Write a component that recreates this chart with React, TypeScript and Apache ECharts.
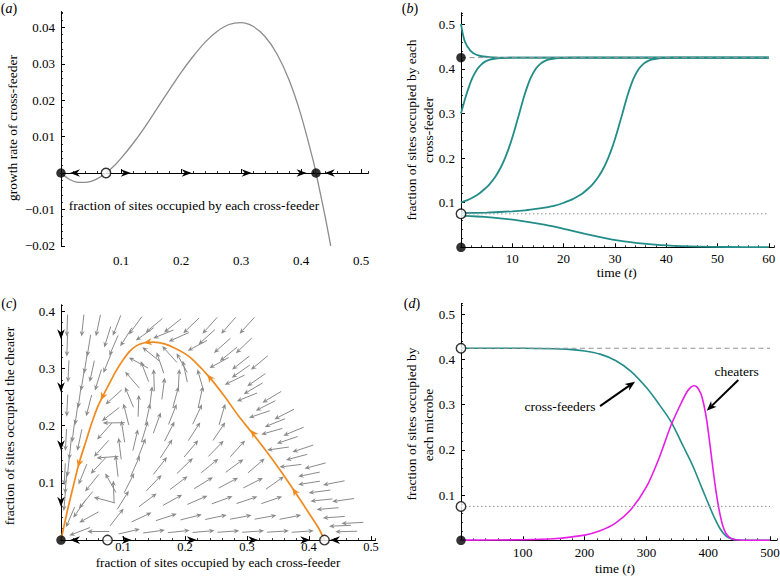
import React, { useEffect, useRef } from 'react';
import * as echarts from 'echarts';

const SERIF = 'Liberation Serif, Times New Roman, serif';
const TEAL = '#228d88';
const MAGENTA = '#e61ee6';
const ORANGE = '#f08a1e';
const STREAM = '#8a8a8a';
const REFGRAY = '#939393';

// ---------- (a) growth rate curve ----------
const growthX = [0, 0.01, 0.02, 0.03, 0.04, 0.05, 0.06, 0.07, 0.075, 0.08, 0.09, 0.1, 0.12, 0.14, 0.16, 0.18, 0.2, 0.22, 0.24, 0.26, 0.28, 0.3, 0.32, 0.34, 0.36, 0.38, 0.4, 0.42, 0.425, 0.44, 0.4495];
const growthY = [0, -0.0013, -0.0022, -0.0026, -0.0026, -0.0023, -0.0016, -0.0006, 0, 0.0007, 0.0022, 0.004, 0.0081, 0.0127, 0.0177, 0.0227, 0.0276, 0.032, 0.0359, 0.0389, 0.0408, 0.0413, 0.0403, 0.0375, 0.0327, 0.0256, 0.0159, 0.0036, 0, -0.0118, -0.02];
const axisArrowsA = [[0.0233, 0, 180], [0.108, 0, 0], [0.2095, 0, 0], [0.3095, 0, 0], [0.401, 0, 0], [0.448, 0, 180]];
const filledA = [[0, 0], [0.425, 0]];
const openA = [[0.075, 0]];

// ---------- (b) time courses ----------
const bFrom050 = [[0, 0.5], [0.2, 0.487], [0.41, 0.475], [0.7, 0.463], [1.0, 0.455], [1.23, 0.45], [1.5, 0.446], [1.86, 0.44], [2.42, 0.435], [3.36, 0.43], [4.31, 0.4275], [5.6, 0.426], [7, 0.4253], [10, 0.4251], [60, 0.425]];
const bFrom030 = [[0, 0.3], [0.48, 0.32], [0.99, 0.34], [1.56, 0.36], [2.24, 0.38], [3.21, 0.4], [3.99, 0.41], [4.7, 0.416], [5.49, 0.42], [6.5, 0.4225], [7.69, 0.424], [10, 0.4248], [60, 0.425]];
const bFrom010 = [[0, 0.1], [1.13, 0.105], [2.04, 0.11], [3.5, 0.12], [4.55, 0.13], [5.46, 0.14], [6.79, 0.16], [7.79, 0.18], [8.58, 0.2], [9.25, 0.22], [9.84, 0.24], [10.37, 0.26], [10.87, 0.28], [11.36, 0.3], [11.84, 0.32], [12.35, 0.34], [12.92, 0.36], [13.6, 0.38], [14.57, 0.4], [15.35, 0.41], [16.1, 0.416], [16.85, 0.42], [17.9, 0.4225], [19.05, 0.424], [21.5, 0.4248], [60, 0.425]];
const bFrom0765 = [[0, 0.0765], [5, 0.0779], [10, 0.0806], [12.5, 0.0828], [15, 0.0865], [17, 0.0902], [18.5, 0.0937], [20.1, 0.1], [21.2, 0.105], [22.1, 0.11], [23.6, 0.12], [24.65, 0.13], [25.56, 0.14], [26.89, 0.16], [27.89, 0.18], [28.68, 0.2], [29.35, 0.22], [29.94, 0.24], [30.47, 0.26], [30.97, 0.28], [31.46, 0.3], [31.94, 0.32], [32.45, 0.34], [33.02, 0.36], [33.7, 0.38], [34.67, 0.4], [35.45, 0.41], [36.2, 0.416], [36.95, 0.42], [38, 0.4225], [39.15, 0.424], [41.6, 0.4248], [60, 0.425]];
const bFrom071 = [[0, 0.071], [1.8, 0.07], [4.6, 0.068], [7.65, 0.065], [11.4, 0.06], [16.5, 0.05], [20.5, 0.04], [24.2, 0.03], [28.3, 0.02], [30.8, 0.015], [34, 0.01], [39, 0.005], [44.7, 0.002], [49.1, 0.001], [55, 0.0004], [60, 0.0002]];
const bStable = 0.425;
const bUnstable = 0.075;
const bTEnd = 60;
const filledB = [[0, 0.425], [0, 0]];
const openB = [[0, 0.075]];

// ---------- (c) phase plane ----------
// [x, y, direction angle in degrees]
const streamArrows = [
  [0.03, 0.015, 201], [0.06, 0.015, 180], [0.11, 0.015, 13], [0.15, 0.015, 8], [0.19, 0.015, 6], [0.23, 0.015, 5], [0.27, 0.015, 4], [0.31, 0.015, 4], [0.35, 0.015, 3.5], [0.39, 0.015, 4], [0.46, 0.015, 181.5],
  [0.45, 0.025, 182.5], [0.47, 0.03, 183],
  [0.015, 0.04, 247], [0.045, 0.04, 209], [0.09, 0.04, 52], [0.13, 0.04, 25], [0.17, 0.04, 18], [0.21, 0.04, 14], [0.25, 0.04, 12], [0.29, 0.04, 10.5], [0.33, 0.04, 10], [0.37, 0.04, 11], [0.44, 0.04, 184],
  [0.03, 0.055, 235], [0.43, 0.055, 185],
  [0.006, 0.07, 265], [0.04, 0.07, 231], [0.07, 0.07, 165], [0.1, 0.07, 58], [0.14, 0.07, 37], [0.18, 0.07, 29], [0.22, 0.07, 23.5], [0.26, 0.07, 20], [0.3, 0.07, 18.5], [0.34, 0.07, 19], [0.42, 0.07, 186], [0.455, 0.07, 188],
  [0.085, 0.085, 92], [0.417, 0.085, 187.5],
  [0.008, 0.1, 265], [0.05, 0.1, 231], [0.08, 0.1, 119], [0.11, 0.1, 63], [0.15, 0.1, 46], [0.19, 0.1, 37], [0.23, 0.1, 31.5], [0.27, 0.1, 28], [0.31, 0.1, 27], [0.345, 0.1, 35], [0.4, 0.1, 189], [0.44, 0.1, 191],
  [0.006, 0.115, 267], [0.035, 0.115, 248], [0.4, 0.115, 191.6],
  [0.012, 0.13, 264], [0.06, 0.13, 227], [0.09, 0.13, 96.5], [0.12, 0.13, 66], [0.16, 0.13, 52], [0.2, 0.13, 44], [0.24, 0.13, 39], [0.28, 0.13, 36.6], [0.315, 0.13, 40.5], [0.37, 0.13, 187], [0.41, 0.13, 195],
  [0.075, 0.145, 184], [0.38, 0.145, 194.8],
  [0.015, 0.16, 264], [0.065, 0.16, 228], [0.095, 0.16, 97], [0.13, 0.16, 69], [0.17, 0.16, 57], [0.21, 0.16, 50], [0.25, 0.16, 46], [0.285, 0.16, 48], [0.35, 0.16, 188], [0.39, 0.16, 198.5],
  [0.008, 0.175, 267], [0.03, 0.175, 258], [0.12, 0.175, 76.6], [0.365, 0.175, 198.6],
  [0.02, 0.19, 263], [0.07, 0.19, 228], [0.1, 0.19, 99], [0.135, 0.19, 73], [0.175, 0.19, 63], [0.215, 0.19, 57], [0.255, 0.19, 56], [0.34, 0.19, 196], [0.375, 0.19, 202.6],
  [0.085, 0.205, 181], [0.155, 0.205, 70], [0.345, 0.205, 202],
  [0.025, 0.22, 262], [0.08, 0.22, 218], [0.105, 0.22, 104], [0.14, 0.22, 77.7], [0.18, 0.22, 68.4], [0.22, 0.22, 65], [0.26, 0.22, 73.7], [0.32, 0.22, 198.6], [0.36, 0.22, 207],
  [0.01, 0.235, 267.3], [0.045, 0.235, 255.7], [0.125, 0.235, 88], [0.33, 0.235, 206.8],
  [0.03, 0.25, 262], [0.085, 0.25, 222], [0.11, 0.25, 113], [0.145, 0.25, 83], [0.185, 0.25, 75], [0.225, 0.25, 77.7], [0.3, 0.25, 202], [0.34, 0.25, 211],
  [0.165, 0.265, 82.5], [0.31, 0.265, 210.6],
  [0.035, 0.28, 261], [0.06, 0.28, 253], [0.115, 0.28, 131], [0.15, 0.28, 92], [0.19, 0.28, 87], [0.225, 0.28, 106], [0.28, 0.28, 206], [0.315, 0.28, 214.7],
  [0.012, 0.295, 267.4], [0.05, 0.295, 257.6], [0.135, 0.295, 111], [0.2, 0.295, 102], [0.29, 0.295, 214.8],
  [0.04, 0.31, 261], [0.075, 0.31, 248], [0.125, 0.31, 151], [0.16, 0.31, 109], [0.195, 0.31, 119], [0.255, 0.31, 209], [0.29, 0.31, 218], [0.32, 0.31, 220],
  [0.145, 0.325, 141], [0.175, 0.325, 132], [0.27, 0.325, 219],
  [0.01, 0.34, 268], [0.045, 0.34, 260.6], [0.085, 0.34, 246.7], [0.22, 0.34, 208], [0.26, 0.34, 221.6], [0.295, 0.34, 224],
  [0.075, 0.355, 252.7], [0.105, 0.355, 237.5], [0.19, 0.355, 204], [0.235, 0.355, 222],
  [0.135, 0.36, 215.5], [0.165, 0.36, 202],
  [0.01, 0.375, 268], [0.035, 0.375, 263.7], [0.06, 0.375, 258], [0.09, 0.375, 248.7], [0.12, 0.375, 234], [0.15, 0.375, 220], [0.18, 0.375, 218.6], [0.21, 0.375, 224], [0.24, 0.375, 228], [0.27, 0.375, 228.7], [0.3, 0.375, 228],
];
const separatrix = [[0.425, 0], [0.415, 0.022], [0.4, 0.047], [0.377, 0.085], [0.355, 0.12], [0.33, 0.157], [0.307, 0.189], [0.285, 0.219], [0.264, 0.251], [0.24, 0.284], [0.215, 0.313], [0.2, 0.326], [0.183, 0.336], [0.167, 0.343], [0.15, 0.346], [0.135, 0.345], [0.122, 0.34], [0.11, 0.329], [0.097, 0.31], [0.088, 0.294], [0.08, 0.278], [0.07, 0.257], [0.06, 0.235], [0.05, 0.206], [0.04, 0.172], [0.029, 0.134], [0.02, 0.095], [0.01, 0.05], [0, 0]];
const separatrixArrows = [[0.377, 0.085, 124], [0.31, 0.187, 128], [0.24, 0.284, 130], [0.14, 0.346, 188], [0.067, 0.251, 245], [0.029, 0.134, 254]];
const axisArrowsC = [[0.0226, 0, 180], [0.106, 0, 0], [0.211, 0, 0], [0.31, 0, 0], [0.394, 0, 0], [0.442, 0, 180], [0, 0.36, 270], [0, 0.267, 270], [0, 0.166, 270], [0, 0.067, 270]];
const filledC = [[0, 0]];
const openC = [[0.075, 0], [0.425, 0]];

// ---------- (d) invasion of cheaters ----------
const dCrossT = [0, 100, 150, 175, 200, 225, 250, 275, 300, 320, 340, 360, 375, 390, 400, 410, 420, 430, 440, 450, 460, 500];
const dCross = [0.425, 0.4249, 0.4238, 0.4225, 0.419, 0.412, 0.398, 0.374, 0.338, 0.302, 0.262, 0.207, 0.165, 0.115, 0.082, 0.05, 0.024, 0.008, 0.002, 0.0005, 0, 0];
const dCheatT = [0, 100, 150, 200, 225, 250, 275, 300, 320, 340, 355, 365, 372, 377, 382, 388, 393, 398, 403, 408, 413, 418, 423, 428, 433, 440, 450, 460, 500];
const dCheat = [0.0003, 0.0012, 0.0035, 0.0115, 0.021, 0.038, 0.068, 0.118, 0.18, 0.255, 0.3, 0.327, 0.339, 0.342, 0.339, 0.325, 0.3, 0.262, 0.21, 0.155, 0.105, 0.065, 0.035, 0.017, 0.008, 0.0025, 0.0005, 0, 0];
const dTEnd = 500;
const annotationArrowsD = [[225, 0.297, 281.6, 0.351], [448.7, 0.3547, 397.6, 0.2867]];
const filledD = [[0, 0]];
const openD = [[0, 0.425], [0, 0.075]];

// ---------- helpers ----------
function head(tip: number[], ux: number, uy: number, len: number, hw: number) {
  const px = -uy, py = ux;
  return [
    [tip[0], tip[1]],
    [tip[0] - len * ux + hw * px, tip[1] - len * uy + hw * py],
    [tip[0] - 0.7 * len * ux, tip[1] - 0.7 * len * uy],
    [tip[0] - len * ux - hw * px, tip[1] - len * uy - hw * py],
  ];
}

function streamSeries(grid: number, data: number[][]) {
  return {
    type: 'custom', coordinateSystem: 'cartesian2d', xAxisIndex: grid, yAxisIndex: grid,
    data, encode: { x: 0, y: 1 }, silent: true, z: 2,
    renderItem: (_p: any, api: any) => {
      const c = api.coord([api.value(0), api.value(1)]);
      const th = (api.value(2) * Math.PI) / 180;
      const ux = Math.cos(th), uy = -Math.sin(th);
      const L = 22;
      const tail = [c[0] - (ux * L) / 2, c[1] - (uy * L) / 2];
      const tip = [c[0] + (ux * L) / 2, c[1] + (uy * L) / 2];
      return {
        type: 'group',
        children: [
          { type: 'line', shape: { x1: tail[0], y1: tail[1], x2: tip[0] - ux * 4, y2: tip[1] - uy * 4 }, style: { stroke: STREAM, lineWidth: 1 } },
          { type: 'polygon', shape: { points: head(tip, ux, uy, 5.5, 2.4) }, style: { fill: STREAM } },
        ],
      };
    },
  };
}

function headSeries(grid: number, data: number[][], len: number, hw: number, color: string, z: number) {
  return {
    type: 'custom', coordinateSystem: 'cartesian2d', xAxisIndex: grid, yAxisIndex: grid,
    data, encode: { x: 0, y: 1 }, silent: true, z,
    renderItem: (_p: any, api: any) => {
      const c = api.coord([api.value(0), api.value(1)]);
      const th = (api.value(2) * Math.PI) / 180;
      const ux = Math.cos(th), uy = -Math.sin(th);
      const tip = [c[0] + (ux * len) / 2, c[1] + (uy * len) / 2];
      return { type: 'polygon', shape: { points: head(tip, ux, uy, len, hw) }, style: { fill: color } };
    },
  };
}

function markerSeries(grid: number, data: number[][], filled: boolean) {
  return {
    type: 'scatter', xAxisIndex: grid, yAxisIndex: grid, data, symbol: 'circle', symbolSize: 9.5,
    clip: false, silent: true, z: 8,
    itemStyle: filled ? { color: '#000' } : { color: '#fff', borderColor: '#000', borderWidth: 1.4 },
  };
}

function lineSeries(grid: number, data: number[][], color: string, width: number, z = 3, extra: any = {}) {
  return {
    type: 'line', xAxisIndex: grid, yAxisIndex: grid, data, showSymbol: false, symbol: 'none',
    clip: false, silent: true, z, smooth: 0.25, lineStyle: { color, width }, ...extra,
  };
}

function refLine(grid: number, y: number, xEnd: number, dotted: boolean) {
  return {
    type: 'line', xAxisIndex: grid, yAxisIndex: grid, data: [[0, y], [xEnd, y]], showSymbol: false, symbol: 'none',
    clip: false, silent: true, z: 4,
    lineStyle: { color: REFGRAY, width: 1, type: dotted ? [1.5, 2.5] : [5, 3.5] },
  };
}

function near(v: number, arr: number[], tol: number) {
  return arr.some((m) => Math.abs(m - v) < tol);
}

function mainAxis(dim: string, grid: number, min: number, max: number, interval: number, majors: number[], fmt: (v: number) => string, margin: number, fontSize = 13) {
  return {
    type: 'value', gridIndex: grid, min, max, interval, position: dim === 'x' ? 'bottom' : 'left',
    axisLine: { show: true, onZero: true, lineStyle: { color: '#000', width: 1 } },
    axisTick: { show: true, inside: true, length: 4, lineStyle: { color: '#000', width: 1 }, customValues: majors },
    minorTick: { show: false },
    axisLabel: {
      show: true, margin, color: '#000', fontFamily: SERIF, fontSize, lineHeight: 12, customValues: majors,
      formatter: (v: number) => (near(v, majors, interval * 1e-3) ? fmt(v) : ''),
    },
    splitLine: { show: false },
    axisPointer: { show: false },
  };
}

function minorAxis(dim: string, grid: number, min: number, max: number, step: number) {
  return {
    type: 'value', gridIndex: grid, min, max, interval: step, position: dim === 'x' ? 'bottom' : 'left',
    axisLine: { show: true, onZero: true, lineStyle: { color: '#000', width: 1 } },
    axisTick: { show: true, inside: true, length: 2, lineStyle: { color: '#000', width: 0.8 } },
    axisLabel: { show: false },
    splitLine: { show: false },
    axisPointer: { show: false },
  };
}

const f1 = (v: number) => v.toFixed(1);
const f2m = (v: number) => v.toFixed(2).replace('-', '\u2212');
const fi = (v: number) => String(Math.round(v));

function txt(x: number, y: number, text: string, rotate = false, size = 13.5) {
  return {
    type: 'text', x, y, rotation: rotate ? Math.PI / 2 : 0, silent: true,
    style: {
      text, fill: '#000', fontFamily: SERIF, fontSize: size, lineHeight: 13,
      align: 'center', verticalAlign: 'middle', textAlign: 'center', textVerticalAlign: 'middle',
    },
  };
}

function richTxt(x: number, y: number, pre: string, ital: string, post: string, size = 13.5) {
  const base = { fontFamily: SERIF, fontSize: size, fill: '#000', color: '#000', lineHeight: 13 };
  return {
    type: 'text', x, y, silent: true,
    style: {
      text: `{r|${pre}}{i|${ital}}{r|${post}}`,
      rich: { r: { ...base }, i: { ...base, fontStyle: 'italic' } },
      fontFamily: SERIF, fontSize: size, fill: '#000',
      align: 'center', verticalAlign: 'middle', textAlign: 'center', textVerticalAlign: 'middle',
    },
  };
}

function buildOption() {
  const grids = [
    { left: 61, top: 11.75, width: 307.2, height: 234.05 },
    { left: 461, top: 13, width: 313, height: 234.3 },
    { left: 61, top: 305, width: 314.3, height: 235.1 },
    { left: 461, top: 303.5, width: 315.8, height: 236.8 },
  ].map((g) => ({ ...g, containLabel: false, outerBoundsMode: 'none', show: false }));

  const xAxis = [
    mainAxis('x', 0, 0, 0.512, 0.1, [0.1, 0.2, 0.3, 0.4, 0.5], f1, 9),
    mainAxis('x', 1, 0, 61, 10, [10, 20, 30, 40, 50, 60], fi, 5),
    mainAxis('x', 2, 0, 0.507, 0.1, [0.1, 0.2, 0.3, 0.4, 0.5], f1, 1, 12.5),
    mainAxis('x', 3, 0, 511, 100, [100, 200, 300, 400, 500], fi, 6),
    minorAxis('x', 0, 0, 0.512, 0.02),
    minorAxis('x', 1, 0, 61, 2),
    minorAxis('x', 2, 0, 0.507, 0.02),
    minorAxis('x', 3, 0, 511, 20),
  ];
  const yAxis = [
    mainAxis('y', 0, -0.02, 0.0443, 0.01, [-0.02, -0.01, 0.01, 0.02, 0.03, 0.04], f2m, 6),
    mainAxis('y', 1, 0, 0.525, 0.1, [0.1, 0.2, 0.3, 0.4, 0.5], f1, 6),
    mainAxis('y', 2, 0, 0.411, 0.1, [0.1, 0.2, 0.3, 0.4], f1, 6),
    mainAxis('y', 3, 0, 0.524, 0.1, [0.1, 0.2, 0.3, 0.4, 0.5], f1, 6),
    minorAxis('y', 0, -0.02, 0.0443, 0.002),
    minorAxis('y', 1, 0, 0.525, 0.02),
    minorAxis('y', 2, 0, 0.411, 0.02),
    minorAxis('y', 3, 0, 0.524, 0.02),
  ];

  const series: any[] = [
    // (a)
    lineSeries(0, growthX.map((x, i) => [x, growthY[i]]), '#8c8c8c', 1.3, 3, { smooth: 0.3 }),
    headSeries(0, axisArrowsA, 10, 3.8, '#000', 6),
    markerSeries(0, filledA, true),
    markerSeries(0, openA, false),
    // (b)
    lineSeries(1, bFrom050, TEAL, 1.8),
    lineSeries(1, bFrom030, TEAL, 1.8),
    lineSeries(1, bFrom010, TEAL, 1.8),
    lineSeries(1, bFrom0765, TEAL, 1.8),
    lineSeries(1, bFrom071, TEAL, 1.8),
    refLine(1, bStable, bTEnd, false),
    refLine(1, bUnstable, bTEnd, true),
    markerSeries(1, filledB, true),
    markerSeries(1, openB, false),
    // (c)
    streamSeries(2, streamArrows),
    lineSeries(2, separatrix, ORANGE, 1.7, 5, { smooth: 0.3 }),
    headSeries(2, separatrixArrows, 8, 3.6, ORANGE, 6),
    headSeries(2, axisArrowsC, 10, 3.8, '#000', 6),
    markerSeries(2, filledC, true),
    markerSeries(2, openC, false),
    // (d)
    refLine(3, bStable, dTEnd, false),
    refLine(3, bUnstable, dTEnd, true),
    lineSeries(3, dCrossT.map((t, i) => [t, dCross[i]]), TEAL, 1.6),
    lineSeries(3, dCheatT.map((t, i) => [t, dCheat[i]]), MAGENTA, 1.6),
    {
      type: 'custom', coordinateSystem: 'cartesian2d', xAxisIndex: 3, yAxisIndex: 3,
      data: annotationArrowsD, encode: { x: [0, 2], y: [1, 3] }, silent: true, z: 7,
      renderItem: (_p: any, api: any) => {
        const a = api.coord([api.value(0), api.value(1)]);
        const b = api.coord([api.value(2), api.value(3)]);
        const dx = b[0] - a[0], dy = b[1] - a[1];
        const n = Math.hypot(dx, dy) || 1;
        const ux = dx / n, uy = dy / n;
        return {
          type: 'group',
          children: [
            { type: 'line', shape: { x1: a[0], y1: a[1], x2: b[0] - ux * 7, y2: b[1] - uy * 7 }, style: { stroke: '#000', lineWidth: 2 } },
            { type: 'polygon', shape: { points: head(b, ux, uy, 10, 4) }, style: { fill: '#000' } },
          ],
        };
      },
    },
    markerSeries(3, filledD, true),
    markerSeries(3, openD, false),
  ];

  const graphic = [
    richTxt(9, 8, '(', 'a', ')', 14),
    richTxt(410, 8, '(', 'b', ')', 14),
    richTxt(9, 303, '(', 'c', ')', 14),
    richTxt(412, 303, '(', 'd', ')', 14),
    txt(12, 128, 'growth rate of cross-feeder', true),
    txt(194, 205, 'fraction of sites occupied by each cross-feeder'),
    txt(411.7, 130, 'fraction of sites occupied by each', true),
    txt(428.3, 130, 'cross-feeder', true),
    richTxt(616.7, 272, 'time (', 't', ')'),
    txt(9.5, 426, 'fraction of sites occupied the cheater', true),
    txt(218, 562, 'fraction of sites occupied by each cross-feeder', false, 13.2),
    txt(411.7, 424, 'fraction of sites occupied by', true),
    txt(428.3, 425, 'each microbe', true),
    richTxt(615, 568.5, 'time (', 't', ')'),
    txt(560, 406.7, 'cross-feeders'),
    txt(736.7, 371.7, 'cheaters'),
  ];

  return {
    animation: false,
    backgroundColor: '#ffffff',
    grid: grids,
    xAxis,
    yAxis,
    series,
    graphic,
  };
}

export default function App() {
  const ref = useRef<HTMLDivElement>(null);
  useEffect(() => {
    document.body.style.margin = '0';
    const chart = echarts.init(ref.current as HTMLDivElement, null, { renderer: 'svg' });
    chart.setOption(buildOption() as any);
    return () => chart.dispose();
  }, []);
  return <div ref={ref} style={{ width: 780, height: 576 }} />;
}
